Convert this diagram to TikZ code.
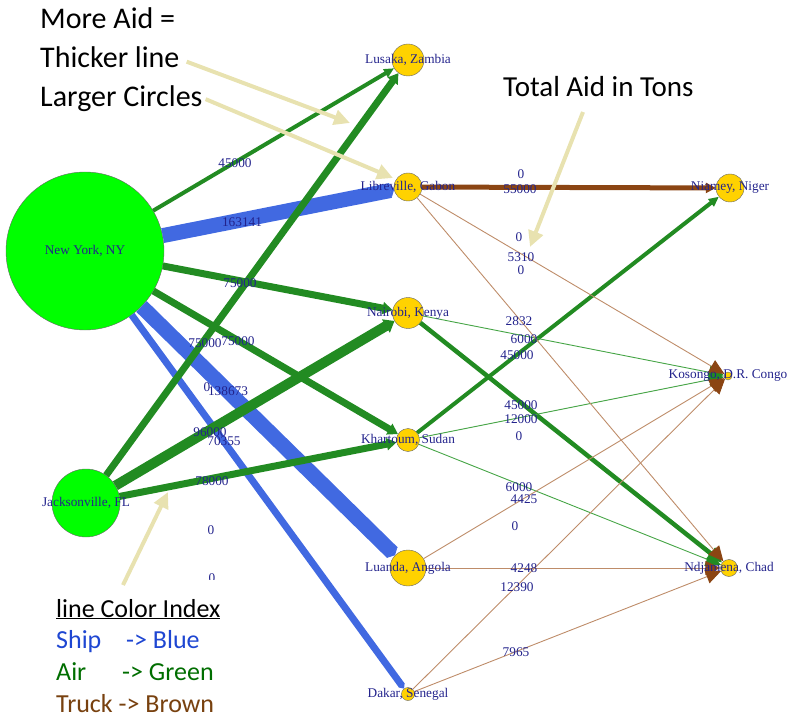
\documentclass[tikz,border=0pt]{standalone}
\usepackage{fontspec}
\setmainfont{Liberation Serif}
\newfontfamily\notefont{Carlito}
\usetikzlibrary{arrows.meta}

\definecolor{hubgreen}{RGB}{0,255,0}
\definecolor{cityyellow}{RGB}{255,210,0}
\definecolor{shipblue}{RGB}{65,105,225}
\definecolor{airgreen}{RGB}{34,139,34}
\definecolor{airlight}{RGB}{70,165,70}
\definecolor{truckbrown}{RGB}{139,69,19}
\definecolor{trucklight}{RGB}{190,140,105}
\definecolor{labelblue}{RGB}{35,35,140}
\definecolor{notekhaki}{RGB}{232,226,176}
\definecolor{legendblue}{RGB}{30,70,210}
\definecolor{legendgreen}{RGB}{0,110,0}
\definecolor{legendbrown}{RGB}{120,65,15}

\newcommand{\citysize}{\fontsize{13.3}{15}\selectfont}

\begin{document}
\begin{tikzpicture}[x=1pt, y=-1pt,
    hub/.style = {draw=black!60, circle, fill=hubgreen, inner sep=0pt},
    city/.style = {draw=black!60, circle, fill=cityyellow, inner sep=0pt},
    cityname/.style = {font=\citysize, text=labelblue, inner sep=1pt},
    amount/.style = {font=\citysize, text=labelblue, inner sep=1pt},
    ship/.style = {draw=shipblue, -{Triangle[length=4pt,width=0pt 1]}},
    air/.style = {draw=airgreen, -{Triangle[length=10pt,width=5pt 1]}},
    truck/.style = {draw=truckbrown, -{Triangle[length=10pt,width=5pt 1]}},
    bigtip/.style = {-{Triangle[length=15pt,width=14pt]}},
    airthin/.style = {draw=airlight, line width=0.9pt, -{Triangle[length=15pt,width=14pt,color=airgreen]}},
    truckthin/.style = {draw=trucklight, line width=0.9pt, -{Triangle[length=15pt,width=14pt,color=truckbrown]}},
    note/.style = {font=\notefont\fontsize{30}{36}\selectfont, inner sep=0pt},
    legend/.style = {font=\notefont\fontsize{26}{30}\selectfont, inner sep=0pt},
    notearrow/.style = {draw=notekhaki, line width=4pt, -{Triangle[length=16pt,width=15pt]}}]
    \useasboundingbox (0,0) rectangle (787,719);

    % cities
    \node[hub, minimum size=158pt] (ny) at (85,251) {};
    \node[hub, minimum size=68pt] (jax) at (86,503) {};
    \node[city, minimum size=32pt] (lusaka) at (408,60) {};
    \node[city, minimum size=28pt] (libreville) at (408,187) {};
    \node[city, minimum size=31pt] (nairobi) at (408,313) {};
    \node[city, minimum size=23pt] (khartoum) at (408,440) {};
    \node[city, minimum size=36pt] (luanda) at (408,568) {};
    \node[city, minimum size=13pt] (dakar) at (408,694) {};
    \node[city, minimum size=28pt] (niamey) at (730,188) {};
    \node[city, minimum size=8pt] (kosongo) at (728,376) {};
    \node[city, minimum size=17pt] (ndjamena) at (729,568) {};

    % ship
    \draw[ship, line width=15pt] (ny) -- (libreville);
    \draw[ship, line width=15pt] (ny) -- (luanda);
    \draw[ship, line width=7pt] (ny) -- (dakar);

    % air
    \draw[air, line width=4pt] (ny) -- (lusaka);
    \draw[air, line width=7pt] (ny) -- (nairobi);
    \draw[air, line width=7pt] (ny) -- (khartoum);
    \draw[air, line width=7pt] (jax) -- (lusaka);
    \draw[air, line width=10pt] (jax) -- (nairobi);
    \draw[air, line width=7pt] (jax) -- (khartoum);
    \draw[air, line width=4pt] (khartoum) -- (niamey);
    \draw[air, bigtip, line width=4.5pt] (nairobi) -- (ndjamena);
    \draw[airthin] (nairobi) -- (kosongo);
    \draw[airthin] (khartoum) -- (kosongo);
    \draw[airthin] (khartoum) -- (ndjamena);

    % truck
    \draw[truck, line width=5pt] (libreville) -- (niamey);
    \draw[truckthin] (libreville) -- (kosongo);
    \draw[truckthin] (libreville) -- (ndjamena);
    \draw[truckthin] (luanda) -- (kosongo);
    \draw[truckthin] (luanda) -- (ndjamena);
    \draw[truckthin] (dakar) -- (kosongo);
    \draw[truckthin] (dakar) -- (ndjamena);

    % city names
    \node[cityname] (ny-name) at (ny) {New York, NY};
    \node[cityname] (jax-name) at (jax) {Jacksonville, FL};
    \node[cityname] (lusaka-name) at (lusaka) {Lusaka, Zambia};
    \node[cityname] (libreville-name) at (libreville) {Libreville, Gabon};
    \node[cityname] (nairobi-name) at (nairobi) {Nairobi, Kenya};
    \node[cityname] (khartoum-name) at (khartoum) {Khartoum, Sudan};
    \node[cityname] (luanda-name) at (luanda) {Luanda, Angola};
    \node[cityname] (dakar-name) at (dakar) {Dakar, Senegal};
    \node[cityname] (niamey-name) at (niamey) {Niamey, Niger};
    \node[cityname] (kosongo-name) at (kosongo) {Kosongo, D.R. Congo};
    \node[cityname] (ndjamena-name) at (ndjamena) {Ndjamena, Chad};

    % tons
    \node[amount] (a1) at (235,163) {45000};
    \node[amount] (a2) at (242,222) {163141};
    \node[amount] (a3) at (240,283) {75000};
    \node[amount] (a4) at (205,343) {75000};
    \node[amount] (a5) at (238,341) {75000};
    \node[amount] (a6) at (207,387) {0};
    \node[amount] (a7) at (228,391) {138673};
    \node[amount] (a8) at (210,432) {96000};
    \node[amount] (a9) at (224,441) {70355};
    \node[amount] (a10) at (212,481) {78000};
    \node[amount] (a11) at (211,530) {0};
    \node[amount] (a12) at (212,578) {0};
    \node[amount] (b1) at (521,174) {0};
    \node[amount] (b2) at (520,189) {55000};
    \node[amount] (b3) at (519,237) {0};
    \node[amount] (b4) at (521,257) {5310};
    \node[amount] (b5) at (521,270) {0};
    \node[amount] (b6) at (519,321) {2832};
    \node[amount] (b7) at (524,339) {6000};
    \node[amount] (b8) at (517,355) {45000};
    \node[amount] (b9) at (521,405) {45000};
    \node[amount] (b10) at (521,419) {12000};
    \node[amount] (b11) at (519,436) {0};
    \node[amount] (b12) at (519,487) {6000};
    \node[amount] (b13) at (524,499) {4425};
    \node[amount] (b14) at (515,526) {0};
    \node[amount] (b15) at (524,568) {4248};
    \node[amount] (b16) at (517,587) {12390};
    \node[amount] (b17) at (516,652) {7965};

    % notes
    \node[note, anchor=base west] (moreaid) at (40,29) {More Aid =};
    \node[note, anchor=base west] (thicker) at (40,68) {Thicker line};
    \node[note, anchor=base west] (larger) at (40,107) {Larger Circles};
    \node[note, font=\notefont\fontsize{29}{34}\selectfont, anchor=base west] (total) at (503,97) {Total Aid in Tons};
    \coordinate (aim1) at (350,123);
    \coordinate (aim2) at (393,178);
    \coordinate (from3) at (583,112);
    \coordinate (aim3) at (530,247);
    \draw[notearrow] ([shift={(7,4)}]thicker.east) -- (aim1);
    \draw[notearrow] ([shift={(3,0)}]larger.east) -- (aim2);
    \draw[notearrow] (from3) -- (aim3);

    % legend
    \fill[white] (40,580) rectangle (240,719);
    \node[legend, anchor=base west] (key) at (56,617) {\underline{line Color Index}};
    \node[legend, text=legendblue, anchor=base west] (shipkey) at (56,648) {\makebox[70pt][l]{Ship}-> Blue};
    \node[legend, text=legendgreen, anchor=base west] (airkey) at (56,680) {\makebox[66pt][l]{Air}-> Green};
    \node[legend, text=legendbrown, anchor=base west] (truckkey) at (56,712) {Truck -> Brown};
    \coordinate (from4) at (123,585);
    \coordinate (aim4) at (168,492);
    \draw[notearrow] (from4) -- (aim4);
\end{tikzpicture}
\end{document}
